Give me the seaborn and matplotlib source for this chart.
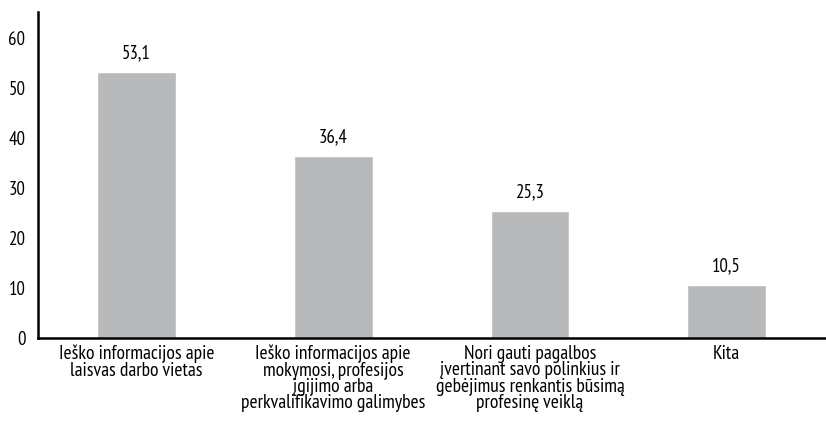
import matplotlib
matplotlib.use("Agg")
import matplotlib.pyplot as plt
import seaborn as sns
import pandas as pd

categories = [
    "Ieško informacijos apie\nlaisvas darbo vietas",
    "Ieško informacijos apie\nmokymosi, profesijos\nįgijimo arba\nperkvalifikavimo galimybes",
    "Nori gauti pagalbos\nįvertinant savo polinkius ir\ngebėjimus renkantis būsimą\nprofesinę veiklą",
    "Kita",
]
values = [53.1, 36.4, 25.3, 10.5]
labels = ["53,1", "36,4", "25,3", "10,5"]
yticks = [0, 10, 20, 30, 40, 50, 60]

sns.set_style("white")
plt.rcParams['font.family'] = ['PT Sans Narrow', 'DejaVu Sans']

df = pd.DataFrame({"cat": categories, "val": values})

fig = plt.figure(figsize=(8.26, 4.24), dpi=100)
ax = fig.add_axes([0.046, 0.203, 0.953, 0.769])
sns.barplot(data=df, x="cat", y="val", color="#B7B9BB", width=0.4,
            saturation=1, ax=ax)

for i, (v, t) in enumerate(zip(values, labels)):
    ax.text(i, v + 2.8, t, ha="center", va="baseline", fontsize=13.5, color="black")

ax.set_xlim(-0.5, 3.5)
ax.set_ylim(0, 65.2)
ax.set_yticks(yticks)
ax.set_yticklabels([str(y) for y in yticks], fontsize=13.5, color="black")
ax.set_xlabel("")
ax.set_ylabel("")
ax.tick_params(axis="x", which="major", length=0, labelsize=14,
               labelcolor="black", pad=5)
ax.set_xticks([-0.5, 0.5, 1.5, 2.5, 3.5], minor=True)
ax.tick_params(axis="x", which="minor", length=5, width=1.5, direction="out")
ax.tick_params(axis="y", length=5, width=1.5, direction="out", pad=4)
for lbl in ax.get_xticklabels():
    lbl.set_linespacing(0.88)

sns.despine(ax=ax, top=True, right=True)
ax.spines["left"].set_linewidth(1.8)
ax.spines["bottom"].set_linewidth(1.8)
ax.spines["left"].set_color("black")
ax.spines["bottom"].set_color("black")

fig.savefig("out.png", dpi=100)
